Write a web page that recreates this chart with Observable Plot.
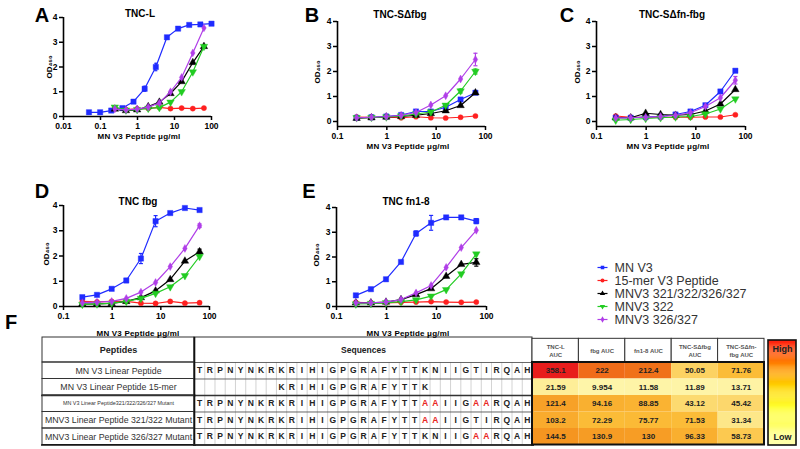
<!DOCTYPE html>
<html>
<head>
<meta charset="utf-8">
<script src="https://cdn.jsdelivr.net/npm/d3@7"></script>
<script src="https://cdn.jsdelivr.net/npm/@observablehq/plot@0.6"></script>
<style>
  html,body{margin:0;padding:0;background:#fff;}
  #root{position:relative;width:800px;height:449px;overflow:hidden;background:#fff;font-family:"Liberation Sans",Arial,sans-serif;}
  .box{position:absolute;}
  .c{position:absolute;transform:translate(-50%,-50%);white-space:nowrap;line-height:1;}
  .letter{font-weight:bold;font-size:20px;color:#000;}
  .title{font-weight:bold;font-size:10px;color:#000;}
  .xlab{font-weight:bold;font-size:8px;color:#000;letter-spacing:0.2px;}
  .ylab{font-weight:bold;font-size:8px;color:#000;transform:translate(-50%,-50%) rotate(-90deg);}
  .panel svg [aria-label^="x-axis"] line, .panel svg [aria-label^="x-axis"] path,
  .panel svg [aria-label^="y-axis"] line, .panel svg [aria-label^="y-axis"] path{stroke-width:1.5;}
</style>
</head>
<body>
<div id="root"></div>
<script>
// ---------------- DATA ----------------
const concFull = [0.0488, 0.0977, 0.195, 0.39, 0.78, 1.56, 3.125, 6.25, 12.5, 25, 50, 100];
const conc = [0.244, 0.488, 0.977, 1.95, 3.9, 7.8, 15.6, 31.25, 62.5];
const seriesNames = ["MN V3", "15-mer V3 Peptide", "MNV3 321/322/326/327", "MNV3 322", "MNV3 326/327"];
const seriesColors = ["#1f2bff", "#ff2020", "#000000", "#22cc22", "#b03ee8"];

// Panel A: TNC-L
const A_mnv3   = [0.17, 0.17, 0.24, 0.34, 0.6, 1.12, 2.0, 3.2, 3.55, 3.7, 3.72, 3.75];
const A_mnv3_e = [0, 0, 0, 0, 0, 0.1, 0.15, 0, 0, 0, 0, 0];
const A_15mer  = [0.35, 0.28, 0.31, 0.33, 0.37, 0.32, 0.34, 0.32, 0.34];
const A_m4     = [0.3, 0.24, 0.27, 0.4, 0.58, 0.93, 1.41, 2.18, 2.83];
const A_m322   = [0.38, 0.26, 0.28, 0.33, 0.36, 0.58, 1.0, 1.8, 2.83];
const A_m326   = [0.3, 0.27, 0.3, 0.38, 0.55, 1.0, 1.58, 2.57, 3.58];

// Panel B: TNC-SΔfbg
const B_mnv3   = [0.15, 0.17, 0.2, 0.26, 0.4, 0.4, 0.57, 0.88, 1.15];
const B_15mer  = [0.18, 0.17, 0.17, 0.15, 0.19, 0.15, 0.14, 0.17, 0.22];
const B_m4     = [0.13, 0.15, 0.18, 0.2, 0.25, 0.32, 0.43, 0.64, 1.15];
const B_m322   = [0.15, 0.16, 0.18, 0.22, 0.3, 0.38, 0.65, 1.22, 2.0];
const B_m322_e = [0, 0, 0, 0, 0, 0, 0, 0.08, 0.1];
const B_m326   = [0.15, 0.17, 0.2, 0.25, 0.36, 0.66, 1.03, 1.7, 2.48];
const B_m326_e = [0, 0, 0, 0, 0, 0, 0, 0, 0.25];

// Panel C: TNC-SΔfn-fbg
const C_mnv3   = [0.15, 0.15, 0.18, 0.2, 0.28, 0.4, 0.65, 1.2, 2.03];
const C_15mer  = [0.22, 0.17, 0.17, 0.17, 0.17, 0.17, 0.18, 0.18, 0.27];
const C_m4     = [0.15, 0.15, 0.33, 0.28, 0.25, 0.28, 0.42, 0.7, 1.28];
const C_m322   = [0.05, 0.08, 0.12, 0.15, 0.18, 0.2, 0.3, 0.5, 0.9];
const C_m326   = [0.15, 0.15, 0.17, 0.2, 0.25, 0.35, 0.6, 0.95, 1.65];
const C_m326_e = [0, 0, 0, 0, 0, 0, 0, 0, 0.15];

// Panel D: TNC fbg
const D_mnv3   = [0.37, 0.46, 0.7, 1.03, 1.9, 3.38, 3.7, 3.9, 3.82];
const D_mnv3_e = [0, 0, 0, 0.08, 0.2, 0.22, 0, 0, 0];
const D_15mer  = [0.2, 0.18, 0.2, 0.2, 0.13, 0.12, 0.2, 0.13, 0.15];
const D_m4     = [0.1, 0.1, 0.12, 0.2, 0.35, 0.62, 1.07, 1.8, 2.17];
const D_m4_e   = [0, 0, 0, 0, 0, 0, 0, 0, 0.1];
const D_m322   = [0.08, 0.1, 0.13, 0.2, 0.32, 0.52, 0.78, 1.22, 1.98];
const D_m326   = [0.15, 0.17, 0.2, 0.32, 0.57, 0.95, 1.58, 2.3, 3.2];
const D_m326_e = [0, 0, 0, 0, 0, 0, 0, 0, 0.07];

// Panel E: TNC fn1-8
const E_mnv3   = [0.45, 0.7, 1.1, 1.8, 2.95, 3.38, 3.6, 3.6, 3.45];
const E_mnv3_e = [0, 0, 0, 0, 0.1, 0.3, 0, 0, 0.1];
const E_15mer  = [0.17, 0.15, 0.15, 0.17, 0.18, 0.2, 0.18, 0.17, 0.18];
const E_m4     = [0.15, 0.15, 0.18, 0.28, 0.48, 0.72, 1.22, 1.7, 1.78];
const E_m4_e   = [0, 0, 0, 0, 0, 0, 0, 0, 0.15];
const E_m322   = [0.1, 0.12, 0.15, 0.2, 0.27, 0.42, 0.68, 1.32, 2.12];
const E_m326   = [0.15, 0.15, 0.18, 0.28, 0.55, 0.85, 1.58, 2.38, 3.08];

const xTicksA = [0.01, 0.1, 1, 10, 100];
const xTicks = [0.1, 1, 10, 100];
const yTicks = [0, 1, 2, 3, 4];

// Table F
const pepNames = ["MN V3 Linear Peptide", "MN V3 Linear Peptide 15-mer", "MN V3 Linear Peptide321/322/326/327 Mutant",
                  "MNV3 Linear Peptide 321/322 Mutant", "MNV3 Linear Peptide 326/327 Mutant"];
const seqs = ["TRPNYNKRKRIHIGPGRAFYTTKNIIGTIRQAH",
              "        KRIHIGPGRAFYTTK          ",
              "TRPNYNKRKRIHIGPGRAFYTTAAIIGAARQAH",
              "TRPNYNKRKRIHIGPGRAFYTTAAIIGTIRQAH",
              "TRPNYNKRKRIHIGPGRAFYTTKNIIGAARQAH"];
const aucHeaders = ["TNC-L\nAUC", "fbg AUC", "fn1-8 AUC", "TNC-SΔfbg\nAUC", "TNC-SΔfn-\nfbg AUC"];
const aucTNCL   = [358.1, 21.59, 121.4, 103.2, 144.5];
const aucFbg    = [222, 9.954, 94.16, 72.29, 130.9];
const aucFn18   = [212.4, 11.58, 88.85, 75.77, 130];
const aucSfbg   = [50.05, 11.89, 43.12, 71.53, 96.33];
const aucSfnfbg = [71.76, 13.71, 45.42, 31.34, 58.73];
const heatStops  = [0, 30, 70, 150, 230, 360];
const heatColors = ["#fffcb8", "#fde88c", "#fbbd38", "#f5921e", "#ef6818", "#e81c1c"];
const rampStops  = [0, 0.35, 0.55, 0.75, 1];
const rampColors = ["#ffffa8", "#ffff30", "#ffd400", "#ff8a00", "#ff1a10"];

// ---------------- DRAW ----------------
const root = document.getElementById("root");
const FONT = "Liberation Sans, Arial, sans-serif";
const triDown = {draw(ctx, size) {
  const y = -Math.sqrt(size / (Math.sqrt(3) * 3));
  ctx.moveTo(0, -y * 2); ctx.lineTo(-Math.sqrt(3) * y, y); ctx.lineTo(Math.sqrt(3) * y, y); ctx.closePath();
}};
const symbols = ["square", "circle", "triangle", triDown, "diamond"];
const radii = [3, 2.6, 2.8, 2.8, 2.4];

function place(node, left, top, w, cls) {
  const div = document.createElement("div");
  div.className = "box" + (cls ? " " + cls : "");
  div.style.left = left + "px"; div.style.top = top + "px"; div.style.width = w + "px";
  div.appendChild(node); root.appendChild(div);
}
function label(text, x, y, cls) {
  const d = document.createElement("div");
  d.className = "c " + cls; d.textContent = text;
  d.style.left = x + "px"; d.style.top = y + "px";
  root.appendChild(d);
}

function panel(cfg) {
  const rows = [];
  cfg.ys.forEach((ys, s) => ys.forEach((y, i) =>
    rows.push({s, x: cfg.xs[s][i], y, e: cfg.err[s] ? cfg.err[s][i] : 0})));
  const marks = [
    Plot.ruleY([cfg.yDomain[0]], {stroke: "#000", strokeWidth: 1.6}),
    Plot.ruleX([cfg.xDomain[0]], {stroke: "#000", strokeWidth: 1.6})
  ];
  for (const s of [1, 0, 2, 3, 4]) {
    const r = rows.filter(d => d.s === s);
    const er = r.filter(d => d.e > 0);
    const col = seriesColors[s];
    marks.push(Plot.line(r, {x: "x", y: "y", stroke: col, strokeWidth: 1.2}));
    marks.push(Plot.ruleX(er, {x: "x", y1: d => d.y - d.e, y2: d => d.y + d.e, stroke: col, strokeWidth: 1.2}));
    marks.push(Plot.link(er, {x1: d => d.x / 1.1, x2: d => d.x * 1.1, y1: d => d.y + d.e, y2: d => d.y + d.e, stroke: col, strokeWidth: 1.2}));
    marks.push(Plot.link(er, {x1: d => d.x / 1.1, x2: d => d.x * 1.1, y1: d => d.y - d.e, y2: d => d.y - d.e, stroke: col, strokeWidth: 1.2}));
    marks.push(Plot.dot(r, {x: "x", y: "y", fill: col, stroke: col, strokeWidth: 0.4, symbol: symbols[s], r: radii[s]}));
  }
  const svg = Plot.plot({
    width: cfg.w, height: cfg.h,
    marginLeft: cfg.mL, marginRight: cfg.mR, marginTop: cfg.mT, marginBottom: cfg.mB,
    style: {background: "transparent", fontFamily: FONT, fontSize: "8.5px", fontWeight: "bold", color: "#000", overflow: "visible"},
    x: {type: "log", domain: cfg.xDomain, ticks: cfg.xTicks, tickFormat: d => String(d), tickSize: 4, tickPadding: 2, label: null},
    y: {domain: cfg.yDomain, ticks: yTicks, tickFormat: d => String(d), tickSize: 4, tickPadding: 2, label: null},
    marks
  });
  place(svg, cfg.left, cfg.top, cfg.w, "panel");
}

const five = (a, b, c, d, e) => [a, b, c, d, e];
panel({left: 0, top: 0, w: 260, h: 150, mL: 63, mR: 49, mT: 17, mB: 34, xDomain: [0.01, 100], xTicks: xTicksA, yDomain: [0, 4],
  xs: five(concFull, conc, conc, conc, conc), ys: five(A_mnv3, A_15mer, A_m4, A_m322, A_m326), err: five(A_mnv3_e, null, null, null, null)});
panel({left: 260, top: 0, w: 260, h: 150, mL: 77, mR: 35, mT: 21, mB: 24, xDomain: [0.1, 100], xTicks, yDomain: [-0.2, 4],
  xs: five(conc, conc, conc, conc, conc), ys: five(B_mnv3, B_15mer, B_m4, B_m322, B_m326), err: five(null, null, null, B_m322_e, B_m326_e)});
panel({left: 520, top: 0, w: 260, h: 150, mL: 76, mR: 35, mT: 21, mB: 24, xDomain: [0.1, 100], xTicks, yDomain: [-0.2, 4],
  xs: five(conc, conc, conc, conc, conc), ys: five(C_mnv3, C_15mer, C_m4, C_m322, C_m326), err: five(null, null, null, null, C_m326_e)});
panel({left: 0, top: 170, w: 260, h: 160, mL: 63, mR: 51, mT: 35, mB: 24, xDomain: [0.1, 100], xTicks, yDomain: [0, 4],
  xs: five(conc, conc, conc, conc, conc), ys: five(D_mnv3, D_15mer, D_m4, D_m322, D_m326), err: five(D_mnv3_e, null, D_m4_e, null, D_m326_e)});
panel({left: 260, top: 170, w: 260, h: 160, mL: 76, mR: 34, mT: 37, mB: 24, xDomain: [0.1, 100], xTicks, yDomain: [0, 4],
  xs: five(conc, conc, conc, conc, conc), ys: five(E_mnv3, E_15mer, E_m4, E_m322, E_m326), err: five(E_mnv3_e, null, E_m4_e, null, null)});

// Legend
const legendRows = seriesNames.map((name, s) => ({name, s}));
const legendMarks = [];
legendRows.forEach(row => {
  legendMarks.push(Plot.link([row], {x1: 7, x2: 17, y1: "name", y2: "name", stroke: seriesColors[row.s], strokeWidth: 1.2}));
  legendMarks.push(Plot.dot([row], {x: 12, y: "name", fill: seriesColors[row.s], symbol: symbols[row.s], r: 2}));
});
legendMarks.push(Plot.text(legendRows, {x: 24, y: "name", text: "name", textAnchor: "start", fontSize: 12.5, fill: "#333"}));
place(Plot.plot({
  width: 200, height: 85, margin: 0,
  style: {background: "transparent", fontFamily: FONT, fontWeight: "normal"},
  x: {domain: [0, 200], range: [0, 200], axis: null},
  y: {type: "point", domain: seriesNames, range: [8, 76], axis: null},
  marks: legendMarks
}), 590, 251, 200);

// Table F
const hdr = 1.515;
const tableY = {domain: [-hdr, 5], range: [1, 108.5], axis: null};
const tStyle = {background: "transparent", fontFamily: FONT, color: "#222"};
const pepRows = pepNames.map((n, i) => ({n, i}));
place(Plot.plot({
  width: 155, height: 110, margin: 0, style: tStyle,
  x: {domain: [0, 1], range: [1, 153], axis: null}, y: tableY,
  marks: [
    Plot.rect(["Peptides"], {x1: 0, x2: 1, y1: -hdr, y2: 0, stroke: "#333", fill: "none"}),
    Plot.rect(pepRows, {x1: 0, x2: 1, y1: d => d.i, y2: d => d.i + 1, stroke: "#333", fill: "none"}),
    Plot.ruleY([2], {stroke: "#333", strokeWidth: 1.6}),
    Plot.ruleY([5], {stroke: "#111", strokeWidth: 1.6}),
    Plot.text(["Peptides"], {x: 0.5, y: -hdr / 2, text: d => d, fontSize: 9, fontWeight: "bold", fill: "#222"}),
    Plot.text(pepRows.filter(d => d.i !== 2), {x: 0.5, y: d => d.i + 0.5, text: "n", fontSize: 8.8, fill: "#333"}),
    Plot.text(pepRows.filter(d => d.i === 2), {x: 0.5, y: d => d.i + 0.5, text: "n", fontSize: 5.4, fill: "#333"})
  ]
}), 41, 336, 155);

const letters = seqs.flatMap((s, i) => [...s].map((ch, c) => ({i, c, ch, mut: ch !== seqs[0][c]}))).filter(d => d.ch !== " ");
place(Plot.plot({
  width: 341, height: 110, margin: 0, style: tStyle,
  x: {domain: [0, seqs[0].length], range: [1, 339], axis: null}, y: tableY,
  marks: [
    Plot.ruleX(d3.range(1, seqs[0].length), {y1: 0, y2: 5, stroke: "#c8c8c8", strokeWidth: 0.8}),
    Plot.ruleY(d3.range(0, 6), {stroke: "#555", strokeWidth: 0.9}),
    Plot.ruleY([2], {stroke: "#333", strokeWidth: 1.6}),
    Plot.ruleY([5], {stroke: "#111", strokeWidth: 1.6}),
    Plot.rect(["Sequences"], {x1: 0, x2: seqs[0].length, y1: -hdr, y2: 5, stroke: "#333", fill: "none"}),
    Plot.ruleX([0], {y1: -hdr, y2: 5, stroke: "#111", strokeWidth: 1.6}),
    Plot.text(["Sequences"], {x: seqs[0].length * 0.5, y: -hdr / 2, text: d => d, fontSize: 8.5, fontWeight: "bold", fill: "#222"}),
    Plot.text(letters.filter(d => !d.mut), {x: d => d.c + 0.5, y: d => d.i + 0.5, text: "ch", fontSize: 8.5, fontWeight: "bold", fill: "#222"}),
    Plot.text(letters.filter(d => d.mut), {x: d => d.c + 0.5, y: d => d.i + 0.5, text: "ch", fontSize: 8.5, fontWeight: "bold", fill: "#e8261f"})
  ]
}), 193, 336, 341);

const aucCols = [aucTNCL, aucFbg, aucFn18, aucSfbg, aucSfnfbg];
const aucCells = aucCols.flatMap((vals, c) => vals.map((v, i) => ({c, i, v})));
const aucHdr = aucHeaders.map((h, c) => ({h, c}));
place(Plot.plot({
  width: 236, height: 110, margin: 0, style: tStyle,
  x: {domain: [0, 5], range: [1, 233], axis: null}, y: tableY,
  color: {type: "linear", domain: heatStops, range: heatColors},
  marks: [
    Plot.rect(aucHdr, {x1: d => d.c, x2: d => d.c + 1, y1: -hdr + 0.08, y2: 0, fill: "white", stroke: "#333", strokeWidth: 1}),
    Plot.text(aucHdr, {x: d => d.c + 0.5, y: -hdr / 2 + 0.04, text: "h", fontSize: 6, fontWeight: "bold", fill: "#555", lineHeight: 1.3}),
    Plot.rect(aucCells, {x1: d => d.c, x2: d => d.c + 1, y1: d => d.i, y2: d => d.i + 1, fill: "v"}),
    Plot.rect([0], {x1: 0, x2: 5, y1: 0, y2: 5, stroke: "#111", strokeWidth: 2, fill: "none"}),
    Plot.text(aucCells, {x: d => d.c + 0.5, y: d => d.i + 0.5, text: d => String(d.v), fontSize: 8, fontWeight: "bold", fill: "#222"})
  ]
}), 531, 336, 236);

// Heat ramp legend
const ramp = d3.range(0, 1, 0.01);
place(Plot.plot({
  width: 31, height: 108, margin: 0, style: tStyle,
  x: {domain: [0, 1], range: [1, 29], axis: null},
  y: {domain: [0, 1], range: [106, 1], axis: null},
  color: {type: "linear", domain: rampStops, range: rampColors},
  marks: [
    Plot.rect(ramp, {x1: 0, x2: 1, y1: d => d, y2: d => Math.min(1, d + 0.011), fill: d => d}),
    Plot.rect([0], {x1: 0, x2: 1, y1: 0, y2: 1, stroke: "#111", strokeWidth: 1.6, fill: "none"}),
    Plot.text(["High"], {x: 0.5, y: 0.92, text: d => d, fontSize: 9, fontWeight: "bold", fill: "#222"}),
    Plot.text(["Low"], {x: 0.5, y: 0.08, text: d => d, fontSize: 9, fontWeight: "bold", fill: "#222"})
  ]
}), 767, 339, 31);

// Text labels
label("A", 42, 15, "letter"); label("B", 312, 15, "letter"); label("C", 567, 15, "letter");
label("D", 42, 191, "letter"); label("E", 309, 191, "letter"); label("F", 11, 322, "letter");
label("TNC-L", 140, 14, "title"); label("TNC-SΔfbg", 400, 15, "title"); label("TNC-SΔfn-fbg", 672, 15, "title");
label("TNC fbg", 138, 202, "title"); label("TNC fn1-8", 406, 202, "title");
const od = "OD₄₅₀";
label(od, 50, 67, "ylab"); label(od, 318, 72, "ylab"); label(od, 578, 72, "ylab");
label(od, 47, 254, "ylab"); label(od, 317, 255, "ylab");
const xl = "MN V3 Peptide  μg/ml";
label(xl, 139, 137, "xlab"); label(xl, 408, 147, "xlab"); label(xl, 668, 147, "xlab");
label(xl, 138, 334, "xlab"); label(xl, 408, 334, "xlab");
</script>
</body>
</html>
